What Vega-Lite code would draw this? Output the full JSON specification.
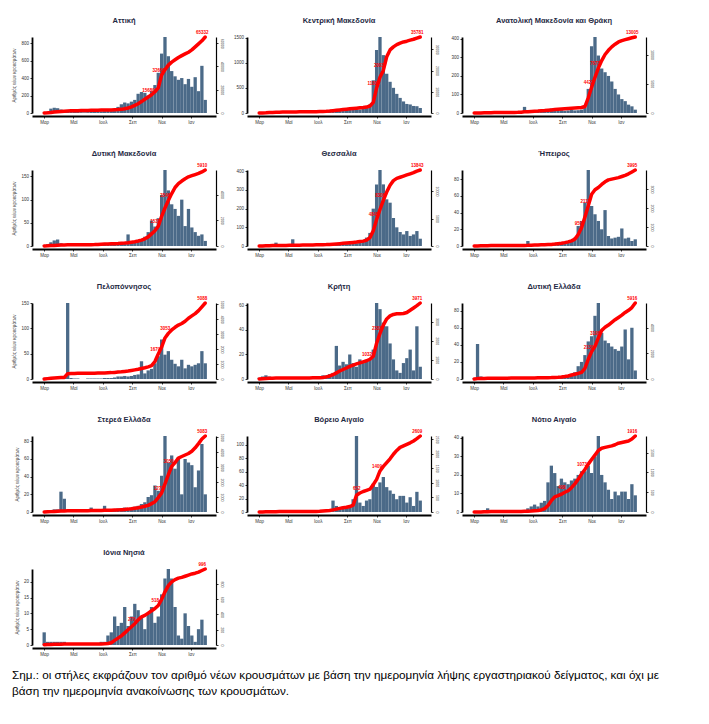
{
"$schema":"https://vega.github.io/schema/vega-lite/v6.json",
"background":"white",
"padding":{"left":11,"top":16,"right":5,"bottom":10},
"bounds":"flush",
"columns":3,
"spacing":{"row":57,"column":31},
"title":{"text":["Σημ.:  οι στήλες εκφράζουν τον αριθμό νέων κρουσμάτων με βάση την ημερομηνία λήψης εργαστηριακού δείγματος, και όχι με","βάση την ημερομηνία ανακοίνωσης των κρουσμάτων."],"orient":"bottom","anchor":"start","fontSize":11.7,"fontWeight":"normal","color":"#000000","lineHeight":16,"offset":14},
"concat":[
{"title":"Αττική","data":{"name":"attiki"},"width":184,"height":76,
"encoding":{"x":{"field":"d","type":"temporal","title":null,"scale":{"type":"utc","domain":[{"year":2020,"month":2,"date":15,"utc":true},{"year":2021,"month":2,"date":12,"utc":true}]},"axis":{"labelOverlap":false,"values":[{"year":2020,"month":3,"date":1,"utc":true},{"year":2020,"month":5,"date":1,"utc":true},{"year":2020,"month":7,"date":1,"utc":true},{"year":2020,"month":9,"date":1,"utc":true},{"year":2020,"month":11,"date":1,"utc":true},{"year":2021,"month":1,"date":1,"utc":true}],"labelExpr":"['Ιαν','Φεβ','Μαρ','Απρ','Μαϊ','Ιουν','Ιουλ','Αυγ','Σεπ','Οκτ','Νοε','Δεκ'][utcmonth(datum.value)]"}}},
"layer":[
{"mark":{"type":"bar","color":"#4b6a88","width":3.3},"encoding":{"y":{"field":"n","type":"quantitative","scale":{"nice":false},"axis":{"title":"Αριθμός νέων κρουσμάτων","format":"d"}}}},
{"mark":{"type":"line","color":"#ff0000","strokeWidth":3.5,"strokeCap":"round","strokeJoin":"round"},"encoding":{"y":{"field":"c","type":"quantitative","scale":{"nice":false},"axis":{"orient":"right","title":null,"format":"d"}}}},
{"transform":[{"filter":"datum.l == 1"}],"mark":{"type":"text","color":"#ff0000","fontSize":4.5,"fontWeight":"bold","dy":-4,"dx":-3},"encoding":{"y":{"field":"c","type":"quantitative","scale":{"nice":false},"axis":null},"text":{"field":"c","type":"quantitative","format":"d"}}}
],"resolve":{"scale":{"y":"independent"}}},
{"title":"Κεντρική Μακεδονία","data":{"name":"km"},"width":184,"height":76,
"encoding":{"x":{"field":"d","type":"temporal","title":null,"scale":{"type":"utc","domain":[{"year":2020,"month":2,"date":15,"utc":true},{"year":2021,"month":2,"date":12,"utc":true}]},"axis":{"labelOverlap":false,"values":[{"year":2020,"month":3,"date":1,"utc":true},{"year":2020,"month":5,"date":1,"utc":true},{"year":2020,"month":7,"date":1,"utc":true},{"year":2020,"month":9,"date":1,"utc":true},{"year":2020,"month":11,"date":1,"utc":true},{"year":2021,"month":1,"date":1,"utc":true}],"labelExpr":"['Ιαν','Φεβ','Μαρ','Απρ','Μαϊ','Ιουν','Ιουλ','Αυγ','Σεπ','Οκτ','Νοε','Δεκ'][utcmonth(datum.value)]"}}},
"layer":[
{"mark":{"type":"bar","color":"#4b6a88","width":3.3},"encoding":{"y":{"field":"n","type":"quantitative","scale":{"nice":false},"axis":{"title":null,"format":"d"}}}},
{"mark":{"type":"line","color":"#ff0000","strokeWidth":3.5,"strokeCap":"round","strokeJoin":"round"},"encoding":{"y":{"field":"c","type":"quantitative","scale":{"nice":false},"axis":{"orient":"right","title":null,"format":"d"}}}},
{"transform":[{"filter":"datum.l == 1"}],"mark":{"type":"text","color":"#ff0000","fontSize":4.5,"fontWeight":"bold","dy":-4,"dx":-3},"encoding":{"y":{"field":"c","type":"quantitative","scale":{"nice":false},"axis":null},"text":{"field":"c","type":"quantitative","format":"d"}}}
],"resolve":{"scale":{"y":"independent"}}},
{"title":"Ανατολική Μακεδονία και Θράκη","data":{"name":"amth"},"width":184,"height":76,
"encoding":{"x":{"field":"d","type":"temporal","title":null,"scale":{"type":"utc","domain":[{"year":2020,"month":2,"date":15,"utc":true},{"year":2021,"month":2,"date":12,"utc":true}]},"axis":{"labelOverlap":false,"values":[{"year":2020,"month":3,"date":1,"utc":true},{"year":2020,"month":5,"date":1,"utc":true},{"year":2020,"month":7,"date":1,"utc":true},{"year":2020,"month":9,"date":1,"utc":true},{"year":2020,"month":11,"date":1,"utc":true},{"year":2021,"month":1,"date":1,"utc":true}],"labelExpr":"['Ιαν','Φεβ','Μαρ','Απρ','Μαϊ','Ιουν','Ιουλ','Αυγ','Σεπ','Οκτ','Νοε','Δεκ'][utcmonth(datum.value)]"}}},
"layer":[
{"mark":{"type":"bar","color":"#4b6a88","width":3.3},"encoding":{"y":{"field":"n","type":"quantitative","scale":{"nice":false},"axis":{"title":null,"format":"d"}}}},
{"mark":{"type":"line","color":"#ff0000","strokeWidth":3.5,"strokeCap":"round","strokeJoin":"round"},"encoding":{"y":{"field":"c","type":"quantitative","scale":{"nice":false},"axis":{"orient":"right","title":null,"format":"d"}}}},
{"transform":[{"filter":"datum.l == 1"}],"mark":{"type":"text","color":"#ff0000","fontSize":4.5,"fontWeight":"bold","dy":-4,"dx":-3},"encoding":{"y":{"field":"c","type":"quantitative","scale":{"nice":false},"axis":null},"text":{"field":"c","type":"quantitative","format":"d"}}}
],"resolve":{"scale":{"y":"independent"}}},
{"title":"Δυτική Μακεδονία","data":{"name":"dm"},"width":184,"height":76,
"encoding":{"x":{"field":"d","type":"temporal","title":null,"scale":{"type":"utc","domain":[{"year":2020,"month":2,"date":15,"utc":true},{"year":2021,"month":2,"date":12,"utc":true}]},"axis":{"labelOverlap":false,"values":[{"year":2020,"month":3,"date":1,"utc":true},{"year":2020,"month":5,"date":1,"utc":true},{"year":2020,"month":7,"date":1,"utc":true},{"year":2020,"month":9,"date":1,"utc":true},{"year":2020,"month":11,"date":1,"utc":true},{"year":2021,"month":1,"date":1,"utc":true}],"labelExpr":"['Ιαν','Φεβ','Μαρ','Απρ','Μαϊ','Ιουν','Ιουλ','Αυγ','Σεπ','Οκτ','Νοε','Δεκ'][utcmonth(datum.value)]"}}},
"layer":[
{"mark":{"type":"bar","color":"#4b6a88","width":3.3},"encoding":{"y":{"field":"n","type":"quantitative","scale":{"nice":false},"axis":{"title":"Αριθμός νέων κρουσμάτων","format":"d"}}}},
{"mark":{"type":"line","color":"#ff0000","strokeWidth":3.5,"strokeCap":"round","strokeJoin":"round"},"encoding":{"y":{"field":"c","type":"quantitative","scale":{"nice":false},"axis":{"orient":"right","title":null,"format":"d"}}}},
{"transform":[{"filter":"datum.l == 1"}],"mark":{"type":"text","color":"#ff0000","fontSize":4.5,"fontWeight":"bold","dy":-4,"dx":-3},"encoding":{"y":{"field":"c","type":"quantitative","scale":{"nice":false},"axis":null},"text":{"field":"c","type":"quantitative","format":"d"}}}
],"resolve":{"scale":{"y":"independent"}}},
{"title":"Θεσσαλία","data":{"name":"thes"},"width":184,"height":76,
"encoding":{"x":{"field":"d","type":"temporal","title":null,"scale":{"type":"utc","domain":[{"year":2020,"month":2,"date":15,"utc":true},{"year":2021,"month":2,"date":12,"utc":true}]},"axis":{"labelOverlap":false,"values":[{"year":2020,"month":3,"date":1,"utc":true},{"year":2020,"month":5,"date":1,"utc":true},{"year":2020,"month":7,"date":1,"utc":true},{"year":2020,"month":9,"date":1,"utc":true},{"year":2020,"month":11,"date":1,"utc":true},{"year":2021,"month":1,"date":1,"utc":true}],"labelExpr":"['Ιαν','Φεβ','Μαρ','Απρ','Μαϊ','Ιουν','Ιουλ','Αυγ','Σεπ','Οκτ','Νοε','Δεκ'][utcmonth(datum.value)]"}}},
"layer":[
{"mark":{"type":"bar","color":"#4b6a88","width":3.3},"encoding":{"y":{"field":"n","type":"quantitative","scale":{"nice":false},"axis":{"title":null,"format":"d"}}}},
{"mark":{"type":"line","color":"#ff0000","strokeWidth":3.5,"strokeCap":"round","strokeJoin":"round"},"encoding":{"y":{"field":"c","type":"quantitative","scale":{"nice":false},"axis":{"orient":"right","title":null,"format":"d"}}}},
{"transform":[{"filter":"datum.l == 1"}],"mark":{"type":"text","color":"#ff0000","fontSize":4.5,"fontWeight":"bold","dy":-4,"dx":-3},"encoding":{"y":{"field":"c","type":"quantitative","scale":{"nice":false},"axis":null},"text":{"field":"c","type":"quantitative","format":"d"}}}
],"resolve":{"scale":{"y":"independent"}}},
{"title":"Ήπειρος","data":{"name":"ip"},"width":184,"height":76,
"encoding":{"x":{"field":"d","type":"temporal","title":null,"scale":{"type":"utc","domain":[{"year":2020,"month":2,"date":15,"utc":true},{"year":2021,"month":2,"date":12,"utc":true}]},"axis":{"labelOverlap":false,"values":[{"year":2020,"month":3,"date":1,"utc":true},{"year":2020,"month":5,"date":1,"utc":true},{"year":2020,"month":7,"date":1,"utc":true},{"year":2020,"month":9,"date":1,"utc":true},{"year":2020,"month":11,"date":1,"utc":true},{"year":2021,"month":1,"date":1,"utc":true}],"labelExpr":"['Ιαν','Φεβ','Μαρ','Απρ','Μαϊ','Ιουν','Ιουλ','Αυγ','Σεπ','Οκτ','Νοε','Δεκ'][utcmonth(datum.value)]"}}},
"layer":[
{"mark":{"type":"bar","color":"#4b6a88","width":3.3},"encoding":{"y":{"field":"n","type":"quantitative","scale":{"nice":false},"axis":{"title":null,"format":"d"}}}},
{"mark":{"type":"line","color":"#ff0000","strokeWidth":3.5,"strokeCap":"round","strokeJoin":"round"},"encoding":{"y":{"field":"c","type":"quantitative","scale":{"nice":false},"axis":{"orient":"right","title":null,"format":"d"}}}},
{"transform":[{"filter":"datum.l == 1"}],"mark":{"type":"text","color":"#ff0000","fontSize":4.5,"fontWeight":"bold","dy":-4,"dx":-3},"encoding":{"y":{"field":"c","type":"quantitative","scale":{"nice":false},"axis":null},"text":{"field":"c","type":"quantitative","format":"d"}}}
],"resolve":{"scale":{"y":"independent"}}},
{"title":"Πελοπόννησος","data":{"name":"pel"},"width":184,"height":76,
"encoding":{"x":{"field":"d","type":"temporal","title":null,"scale":{"type":"utc","domain":[{"year":2020,"month":2,"date":15,"utc":true},{"year":2021,"month":2,"date":12,"utc":true}]},"axis":{"labelOverlap":false,"values":[{"year":2020,"month":3,"date":1,"utc":true},{"year":2020,"month":5,"date":1,"utc":true},{"year":2020,"month":7,"date":1,"utc":true},{"year":2020,"month":9,"date":1,"utc":true},{"year":2020,"month":11,"date":1,"utc":true},{"year":2021,"month":1,"date":1,"utc":true}],"labelExpr":"['Ιαν','Φεβ','Μαρ','Απρ','Μαϊ','Ιουν','Ιουλ','Αυγ','Σεπ','Οκτ','Νοε','Δεκ'][utcmonth(datum.value)]"}}},
"layer":[
{"mark":{"type":"bar","color":"#4b6a88","width":3.3},"encoding":{"y":{"field":"n","type":"quantitative","scale":{"nice":false},"axis":{"title":"Αριθμός νέων κρουσμάτων","format":"d"}}}},
{"mark":{"type":"line","color":"#ff0000","strokeWidth":3.5,"strokeCap":"round","strokeJoin":"round"},"encoding":{"y":{"field":"c","type":"quantitative","scale":{"nice":false},"axis":{"orient":"right","title":null,"format":"d"}}}},
{"transform":[{"filter":"datum.l == 1"}],"mark":{"type":"text","color":"#ff0000","fontSize":4.5,"fontWeight":"bold","dy":-4,"dx":-3},"encoding":{"y":{"field":"c","type":"quantitative","scale":{"nice":false},"axis":null},"text":{"field":"c","type":"quantitative","format":"d"}}}
],"resolve":{"scale":{"y":"independent"}}},
{"title":"Κρήτη","data":{"name":"kri"},"width":184,"height":76,
"encoding":{"x":{"field":"d","type":"temporal","title":null,"scale":{"type":"utc","domain":[{"year":2020,"month":2,"date":15,"utc":true},{"year":2021,"month":2,"date":12,"utc":true}]},"axis":{"labelOverlap":false,"values":[{"year":2020,"month":3,"date":1,"utc":true},{"year":2020,"month":5,"date":1,"utc":true},{"year":2020,"month":7,"date":1,"utc":true},{"year":2020,"month":9,"date":1,"utc":true},{"year":2020,"month":11,"date":1,"utc":true},{"year":2021,"month":1,"date":1,"utc":true}],"labelExpr":"['Ιαν','Φεβ','Μαρ','Απρ','Μαϊ','Ιουν','Ιουλ','Αυγ','Σεπ','Οκτ','Νοε','Δεκ'][utcmonth(datum.value)]"}}},
"layer":[
{"mark":{"type":"bar","color":"#4b6a88","width":3.3},"encoding":{"y":{"field":"n","type":"quantitative","scale":{"nice":false},"axis":{"title":null,"format":"d"}}}},
{"mark":{"type":"line","color":"#ff0000","strokeWidth":3.5,"strokeCap":"round","strokeJoin":"round"},"encoding":{"y":{"field":"c","type":"quantitative","scale":{"nice":false},"axis":{"orient":"right","title":null,"format":"d"}}}},
{"transform":[{"filter":"datum.l == 1"}],"mark":{"type":"text","color":"#ff0000","fontSize":4.5,"fontWeight":"bold","dy":-4,"dx":-3},"encoding":{"y":{"field":"c","type":"quantitative","scale":{"nice":false},"axis":null},"text":{"field":"c","type":"quantitative","format":"d"}}}
],"resolve":{"scale":{"y":"independent"}}},
{"title":"Δυτική Ελλάδα","data":{"name":"de"},"width":184,"height":76,
"encoding":{"x":{"field":"d","type":"temporal","title":null,"scale":{"type":"utc","domain":[{"year":2020,"month":2,"date":15,"utc":true},{"year":2021,"month":2,"date":12,"utc":true}]},"axis":{"labelOverlap":false,"values":[{"year":2020,"month":3,"date":1,"utc":true},{"year":2020,"month":5,"date":1,"utc":true},{"year":2020,"month":7,"date":1,"utc":true},{"year":2020,"month":9,"date":1,"utc":true},{"year":2020,"month":11,"date":1,"utc":true},{"year":2021,"month":1,"date":1,"utc":true}],"labelExpr":"['Ιαν','Φεβ','Μαρ','Απρ','Μαϊ','Ιουν','Ιουλ','Αυγ','Σεπ','Οκτ','Νοε','Δεκ'][utcmonth(datum.value)]"}}},
"layer":[
{"mark":{"type":"bar","color":"#4b6a88","width":3.3},"encoding":{"y":{"field":"n","type":"quantitative","scale":{"nice":false},"axis":{"title":null,"format":"d"}}}},
{"mark":{"type":"line","color":"#ff0000","strokeWidth":3.5,"strokeCap":"round","strokeJoin":"round"},"encoding":{"y":{"field":"c","type":"quantitative","scale":{"nice":false},"axis":{"orient":"right","title":null,"format":"d"}}}},
{"transform":[{"filter":"datum.l == 1"}],"mark":{"type":"text","color":"#ff0000","fontSize":4.5,"fontWeight":"bold","dy":-4,"dx":-3},"encoding":{"y":{"field":"c","type":"quantitative","scale":{"nice":false},"axis":null},"text":{"field":"c","type":"quantitative","format":"d"}}}
],"resolve":{"scale":{"y":"independent"}}},
{"title":"Στερεά Ελλάδα","data":{"name":"se"},"width":184,"height":76,
"encoding":{"x":{"field":"d","type":"temporal","title":null,"scale":{"type":"utc","domain":[{"year":2020,"month":2,"date":15,"utc":true},{"year":2021,"month":2,"date":12,"utc":true}]},"axis":{"labelOverlap":false,"values":[{"year":2020,"month":3,"date":1,"utc":true},{"year":2020,"month":5,"date":1,"utc":true},{"year":2020,"month":7,"date":1,"utc":true},{"year":2020,"month":9,"date":1,"utc":true},{"year":2020,"month":11,"date":1,"utc":true},{"year":2021,"month":1,"date":1,"utc":true}],"labelExpr":"['Ιαν','Φεβ','Μαρ','Απρ','Μαϊ','Ιουν','Ιουλ','Αυγ','Σεπ','Οκτ','Νοε','Δεκ'][utcmonth(datum.value)]"}}},
"layer":[
{"mark":{"type":"bar","color":"#4b6a88","width":3.3},"encoding":{"y":{"field":"n","type":"quantitative","scale":{"nice":false},"axis":{"title":"Αριθμός νέων κρουσμάτων","format":"d"}}}},
{"mark":{"type":"line","color":"#ff0000","strokeWidth":3.5,"strokeCap":"round","strokeJoin":"round"},"encoding":{"y":{"field":"c","type":"quantitative","scale":{"nice":false},"axis":{"orient":"right","title":null,"format":"d"}}}},
{"transform":[{"filter":"datum.l == 1"}],"mark":{"type":"text","color":"#ff0000","fontSize":4.5,"fontWeight":"bold","dy":-4,"dx":-3},"encoding":{"y":{"field":"c","type":"quantitative","scale":{"nice":false},"axis":null},"text":{"field":"c","type":"quantitative","format":"d"}}}
],"resolve":{"scale":{"y":"independent"}}},
{"title":"Βόρειο Αιγαίο","data":{"name":"va"},"width":184,"height":76,
"encoding":{"x":{"field":"d","type":"temporal","title":null,"scale":{"type":"utc","domain":[{"year":2020,"month":2,"date":15,"utc":true},{"year":2021,"month":2,"date":12,"utc":true}]},"axis":{"labelOverlap":false,"values":[{"year":2020,"month":3,"date":1,"utc":true},{"year":2020,"month":5,"date":1,"utc":true},{"year":2020,"month":7,"date":1,"utc":true},{"year":2020,"month":9,"date":1,"utc":true},{"year":2020,"month":11,"date":1,"utc":true},{"year":2021,"month":1,"date":1,"utc":true}],"labelExpr":"['Ιαν','Φεβ','Μαρ','Απρ','Μαϊ','Ιουν','Ιουλ','Αυγ','Σεπ','Οκτ','Νοε','Δεκ'][utcmonth(datum.value)]"}}},
"layer":[
{"mark":{"type":"bar","color":"#4b6a88","width":3.3},"encoding":{"y":{"field":"n","type":"quantitative","scale":{"nice":false},"axis":{"title":null,"format":"d"}}}},
{"mark":{"type":"line","color":"#ff0000","strokeWidth":3.5,"strokeCap":"round","strokeJoin":"round"},"encoding":{"y":{"field":"c","type":"quantitative","scale":{"nice":false},"axis":{"orient":"right","title":null,"format":"d"}}}},
{"transform":[{"filter":"datum.l == 1"}],"mark":{"type":"text","color":"#ff0000","fontSize":4.5,"fontWeight":"bold","dy":-4,"dx":-3},"encoding":{"y":{"field":"c","type":"quantitative","scale":{"nice":false},"axis":null},"text":{"field":"c","type":"quantitative","format":"d"}}}
],"resolve":{"scale":{"y":"independent"}}},
{"title":"Νότιο Αιγαίο","data":{"name":"na"},"width":184,"height":76,
"encoding":{"x":{"field":"d","type":"temporal","title":null,"scale":{"type":"utc","domain":[{"year":2020,"month":2,"date":15,"utc":true},{"year":2021,"month":2,"date":12,"utc":true}]},"axis":{"labelOverlap":false,"values":[{"year":2020,"month":3,"date":1,"utc":true},{"year":2020,"month":5,"date":1,"utc":true},{"year":2020,"month":7,"date":1,"utc":true},{"year":2020,"month":9,"date":1,"utc":true},{"year":2020,"month":11,"date":1,"utc":true},{"year":2021,"month":1,"date":1,"utc":true}],"labelExpr":"['Ιαν','Φεβ','Μαρ','Απρ','Μαϊ','Ιουν','Ιουλ','Αυγ','Σεπ','Οκτ','Νοε','Δεκ'][utcmonth(datum.value)]"}}},
"layer":[
{"mark":{"type":"bar","color":"#4b6a88","width":3.3},"encoding":{"y":{"field":"n","type":"quantitative","scale":{"nice":false},"axis":{"title":null,"format":"d"}}}},
{"mark":{"type":"line","color":"#ff0000","strokeWidth":3.5,"strokeCap":"round","strokeJoin":"round"},"encoding":{"y":{"field":"c","type":"quantitative","scale":{"nice":false},"axis":{"orient":"right","title":null,"format":"d"}}}},
{"transform":[{"filter":"datum.l == 1"}],"mark":{"type":"text","color":"#ff0000","fontSize":4.5,"fontWeight":"bold","dy":-4,"dx":-3},"encoding":{"y":{"field":"c","type":"quantitative","scale":{"nice":false},"axis":null},"text":{"field":"c","type":"quantitative","format":"d"}}}
],"resolve":{"scale":{"y":"independent"}}},
{"title":"Ιόνια Νησιά","data":{"name":"in"},"width":184,"height":76,
"encoding":{"x":{"field":"d","type":"temporal","title":null,"scale":{"type":"utc","domain":[{"year":2020,"month":2,"date":15,"utc":true},{"year":2021,"month":2,"date":12,"utc":true}]},"axis":{"labelOverlap":false,"values":[{"year":2020,"month":3,"date":1,"utc":true},{"year":2020,"month":5,"date":1,"utc":true},{"year":2020,"month":7,"date":1,"utc":true},{"year":2020,"month":9,"date":1,"utc":true},{"year":2020,"month":11,"date":1,"utc":true},{"year":2021,"month":1,"date":1,"utc":true}],"labelExpr":"['Ιαν','Φεβ','Μαρ','Απρ','Μαϊ','Ιουν','Ιουλ','Αυγ','Σεπ','Οκτ','Νοε','Δεκ'][utcmonth(datum.value)]"}}},
"layer":[
{"mark":{"type":"bar","color":"#4b6a88","width":3.3},"encoding":{"y":{"field":"n","type":"quantitative","scale":{"nice":false},"axis":{"title":"Αριθμός νέων κρουσμάτων","format":"d"}}}},
{"mark":{"type":"line","color":"#ff0000","strokeWidth":3.5,"strokeCap":"round","strokeJoin":"round"},"encoding":{"y":{"field":"c","type":"quantitative","scale":{"nice":false},"axis":{"orient":"right","title":null,"format":"d"}}}},
{"transform":[{"filter":"datum.l == 1"}],"mark":{"type":"text","color":"#ff0000","fontSize":4.5,"fontWeight":"bold","dy":-4,"dx":-3},"encoding":{"y":{"field":"c","type":"quantitative","scale":{"nice":false},"axis":null},"text":{"field":"c","type":"quantitative","format":"d"}}}
],"resolve":{"scale":{"y":"independent"}}}
],
"datasets":{
"attiki":[
{"d":"2020-03-01","n":2,"c":0},{"d":"2020-03-08","n":15,"c":131},{"d":"2020-03-15","n":50,"c":392},{"d":"2020-03-22","n":60,"c":784},{"d":"2020-03-29","n":55,"c":1111},{"d":"2020-04-05","n":40,"c":1372},{"d":"2020-04-12","n":30,"c":1568},{"d":"2020-04-19","n":25,"c":1699},{"d":"2020-04-26","n":20,"c":1829},{"d":"2020-05-03","n":15,"c":1960},{"d":"2020-05-10","n":12,"c":2025},{"d":"2020-05-17","n":10,"c":2091},{"d":"2020-05-24","n":8,"c":2156},{"d":"2020-05-31","n":10,"c":2221},{"d":"2020-06-07","n":12,"c":2287},{"d":"2020-06-14","n":15,"c":2352},{"d":"2020-06-21","n":18,"c":2417},{"d":"2020-06-28","n":20,"c":2483},{"d":"2020-07-05","n":22,"c":2548},{"d":"2020-07-12","n":25,"c":2613},{"d":"2020-07-19","n":30,"c":2679},{"d":"2020-07-26","n":40,"c":2809},{"d":"2020-08-02","n":70,"c":2940},{"d":"2020-08-09","n":100,"c":3136},{"d":"2020-08-16","n":120,"c":3659},{"d":"2020-08-23","n":110,"c":4312},{"d":"2020-08-30","n":130,"c":5227},{"d":"2020-09-06","n":150,"c":6533},{"d":"2020-09-13","n":220,"c":7971},{"d":"2020-09-20","n":240,"c":9800},{"d":"2020-09-27","n":230,"c":11760},{"d":"2020-10-04","n":200,"c":13720},{"d":"2020-10-11","n":250,"c":15680,"l":1},{"d":"2020-10-18","n":320,"c":18293},{"d":"2020-10-25","n":460,"c":21560},{"d":"2020-11-01","n":680,"c":32666,"l":1},{"d":"2020-11-08","n":870,"c":37239},{"d":"2020-11-15","n":650,"c":41159},{"d":"2020-11-22","n":480,"c":43772},{"d":"2020-11-29","n":420,"c":45732},{"d":"2020-12-06","n":380,"c":47692},{"d":"2020-12-13","n":400,"c":49326},{"d":"2020-12-20","n":330,"c":50828},{"d":"2020-12-27","n":390,"c":52266},{"d":"2021-01-03","n":300,"c":54226},{"d":"2021-01-10","n":410,"c":56839},{"d":"2021-01-17","n":250,"c":59452},{"d":"2021-01-24","n":540,"c":62065},{"d":"2021-01-31","n":150,"c":65332,"l":1}],
"km":[
{"d":"2020-03-01","n":0,"c":0},{"d":"2020-03-08","n":3,"c":36},{"d":"2020-03-15","n":10,"c":107},{"d":"2020-03-22","n":15,"c":215},{"d":"2020-03-29","n":12,"c":286},{"d":"2020-04-05","n":10,"c":358},{"d":"2020-04-12","n":8,"c":394},{"d":"2020-04-19","n":5,"c":429},{"d":"2020-04-26","n":4,"c":465},{"d":"2020-05-03","n":3,"c":465},{"d":"2020-05-10","n":2,"c":501},{"d":"2020-05-17","n":2,"c":501},{"d":"2020-05-24","n":2,"c":537},{"d":"2020-05-31","n":3,"c":537},{"d":"2020-06-07","n":3,"c":572},{"d":"2020-06-14","n":4,"c":572},{"d":"2020-06-21","n":5,"c":608},{"d":"2020-06-28","n":6,"c":644},{"d":"2020-07-05","n":8,"c":680},{"d":"2020-07-12","n":10,"c":716},{"d":"2020-07-19","n":15,"c":787},{"d":"2020-07-26","n":30,"c":895},{"d":"2020-08-02","n":60,"c":1073},{"d":"2020-08-09","n":70,"c":1252},{"d":"2020-08-16","n":80,"c":1431},{"d":"2020-08-23","n":75,"c":1610},{"d":"2020-08-30","n":85,"c":1789},{"d":"2020-09-06","n":70,"c":1968},{"d":"2020-09-13","n":80,"c":2147},{"d":"2020-09-20","n":75,"c":2290},{"d":"2020-09-27","n":70,"c":2433},{"d":"2020-10-04","n":90,"c":2576},{"d":"2020-10-11","n":110,"c":2791},{"d":"2020-10-18","n":170,"c":3292},{"d":"2020-10-25","n":650,"c":5009},{"d":"2020-11-01","n":1250,"c":11808,"l":1},{"d":"2020-11-08","n":1510,"c":16817},{"d":"2020-11-15","n":1150,"c":20037,"l":1},{"d":"2020-11-22","n":780,"c":26478},{"d":"2020-11-29","n":620,"c":29698},{"d":"2020-12-06","n":500,"c":31129},{"d":"2020-12-13","n":380,"c":32203},{"d":"2020-12-20","n":300,"c":32919},{"d":"2020-12-27","n":230,"c":33455},{"d":"2021-01-03","n":180,"c":33813},{"d":"2021-01-10","n":170,"c":34278},{"d":"2021-01-17","n":140,"c":34708},{"d":"2021-01-24","n":135,"c":35244},{"d":"2021-01-31","n":100,"c":35781,"l":1}],
"amth":[
{"d":"2020-03-01","n":0,"c":0},{"d":"2020-03-08","n":0,"c":0},{"d":"2020-03-15","n":1,"c":13},{"d":"2020-03-22","n":2,"c":26},{"d":"2020-03-29","n":2,"c":39},{"d":"2020-04-05","n":1,"c":52},{"d":"2020-04-12","n":1,"c":65},{"d":"2020-04-19","n":1,"c":65},{"d":"2020-04-26","n":1,"c":78},{"d":"2020-05-03","n":0,"c":78},{"d":"2020-05-10","n":1,"c":91},{"d":"2020-05-17","n":1,"c":91},{"d":"2020-05-24","n":2,"c":104},{"d":"2020-05-31","n":3,"c":117},{"d":"2020-06-07","n":8,"c":143},{"d":"2020-06-14","n":33,"c":195},{"d":"2020-06-21","n":10,"c":221},{"d":"2020-06-28","n":5,"c":260},{"d":"2020-07-05","n":4,"c":299},{"d":"2020-07-12","n":6,"c":338},{"d":"2020-07-19","n":8,"c":390},{"d":"2020-07-26","n":10,"c":429},{"d":"2020-08-02","n":20,"c":481},{"d":"2020-08-09","n":24,"c":533},{"d":"2020-08-16","n":15,"c":585},{"d":"2020-08-23","n":12,"c":637},{"d":"2020-08-30","n":15,"c":689},{"d":"2020-09-06","n":12,"c":741},{"d":"2020-09-13","n":14,"c":780},{"d":"2020-09-20","n":16,"c":819},{"d":"2020-09-27","n":14,"c":858},{"d":"2020-10-04","n":15,"c":897},{"d":"2020-10-11","n":18,"c":936},{"d":"2020-10-18","n":30,"c":1105},{"d":"2020-10-25","n":130,"c":2601},{"d":"2020-11-01","n":360,"c":4422,"l":1},{"d":"2020-11-08","n":410,"c":6112},{"d":"2020-11-15","n":310,"c":7673,"l":1},{"d":"2020-11-22","n":240,"c":8973},{"d":"2020-11-29","n":220,"c":10014},{"d":"2020-12-06","n":200,"c":10729},{"d":"2020-12-13","n":170,"c":11314},{"d":"2020-12-20","n":130,"c":11770},{"d":"2020-12-27","n":100,"c":12160},{"d":"2021-01-03","n":75,"c":12381},{"d":"2021-01-10","n":64,"c":12550},{"d":"2021-01-17","n":45,"c":12706},{"d":"2021-01-24","n":36,"c":12875},{"d":"2021-01-31","n":18,"c":13005,"l":1}],
"dm":[
{"d":"2020-03-01","n":1,"c":0},{"d":"2020-03-08","n":4,"c":12},{"d":"2020-03-15","n":8,"c":30},{"d":"2020-03-22","n":12,"c":47},{"d":"2020-03-29","n":14,"c":65},{"d":"2020-04-05","n":6,"c":77},{"d":"2020-04-12","n":3,"c":83},{"d":"2020-04-19","n":2,"c":89},{"d":"2020-04-26","n":2,"c":89},{"d":"2020-05-03","n":1,"c":95},{"d":"2020-05-10","n":1,"c":95},{"d":"2020-05-17","n":1,"c":100},{"d":"2020-05-24","n":1,"c":100},{"d":"2020-05-31","n":1,"c":106},{"d":"2020-06-07","n":2,"c":106},{"d":"2020-06-14","n":2,"c":112},{"d":"2020-06-21","n":2,"c":124},{"d":"2020-06-28","n":2,"c":136},{"d":"2020-07-05","n":3,"c":148},{"d":"2020-07-12","n":3,"c":160},{"d":"2020-07-19","n":4,"c":171},{"d":"2020-07-26","n":5,"c":183},{"d":"2020-08-02","n":6,"c":195},{"d":"2020-08-09","n":7,"c":213},{"d":"2020-08-16","n":8,"c":230},{"d":"2020-08-23","n":25,"c":254},{"d":"2020-08-30","n":7,"c":296},{"d":"2020-09-06","n":8,"c":337},{"d":"2020-09-13","n":10,"c":390},{"d":"2020-09-20","n":15,"c":455},{"d":"2020-09-27","n":20,"c":561},{"d":"2020-10-04","n":30,"c":709},{"d":"2020-10-11","n":55,"c":946},{"d":"2020-10-18","n":42,"c":1182},{"d":"2020-10-25","n":60,"c":1537,"l":1},{"d":"2020-11-01","n":110,"c":2305},{"d":"2020-11-08","n":164,"c":2955},{"d":"2020-11-15","n":120,"c":3546,"l":1},{"d":"2020-11-22","n":90,"c":4078},{"d":"2020-11-29","n":80,"c":4551},{"d":"2020-12-06","n":65,"c":4846},{"d":"2020-12-13","n":100,"c":5053},{"d":"2020-12-20","n":43,"c":5230},{"d":"2020-12-27","n":80,"c":5378},{"d":"2021-01-03","n":40,"c":5467},{"d":"2021-01-10","n":30,"c":5555},{"d":"2021-01-17","n":22,"c":5644},{"d":"2021-01-24","n":25,"c":5762},{"d":"2021-01-31","n":11,"c":5910,"l":1}],
"thes":[
{"d":"2020-03-01","n":0,"c":0},{"d":"2020-03-08","n":0,"c":14},{"d":"2020-03-15","n":1,"c":28},{"d":"2020-03-22","n":2,"c":55},{"d":"2020-03-29","n":3,"c":69},{"d":"2020-04-05","n":18,"c":83},{"d":"2020-04-12","n":3,"c":97},{"d":"2020-04-19","n":2,"c":111},{"d":"2020-04-26","n":2,"c":111},{"d":"2020-05-03","n":3,"c":125},{"d":"2020-05-10","n":36,"c":138},{"d":"2020-05-17","n":3,"c":152},{"d":"2020-05-24","n":2,"c":152},{"d":"2020-05-31","n":2,"c":166},{"d":"2020-06-07","n":2,"c":166},{"d":"2020-06-14","n":2,"c":180},{"d":"2020-06-21","n":3,"c":194},{"d":"2020-06-28","n":3,"c":208},{"d":"2020-07-05","n":4,"c":221},{"d":"2020-07-12","n":5,"c":249},{"d":"2020-07-19","n":5,"c":263},{"d":"2020-07-26","n":6,"c":291},{"d":"2020-08-02","n":8,"c":332},{"d":"2020-08-09","n":10,"c":374},{"d":"2020-08-16","n":12,"c":429},{"d":"2020-08-23","n":12,"c":485},{"d":"2020-08-30","n":10,"c":540},{"d":"2020-09-06","n":12,"c":595},{"d":"2020-09-13","n":13,"c":651},{"d":"2020-09-20","n":15,"c":720},{"d":"2020-09-27","n":18,"c":803},{"d":"2020-10-04","n":25,"c":886},{"d":"2020-10-11","n":45,"c":1080},{"d":"2020-10-18","n":70,"c":1523},{"d":"2020-10-25","n":200,"c":2769},{"d":"2020-11-01","n":330,"c":4845,"l":1},{"d":"2020-11-08","n":407,"c":6645},{"d":"2020-11-15","n":330,"c":8306,"l":1},{"d":"2020-11-22","n":250,"c":9829},{"d":"2020-11-29","n":232,"c":11074},{"d":"2020-12-06","n":150,"c":11905},{"d":"2020-12-13","n":100,"c":12320},{"d":"2020-12-20","n":75,"c":12528},{"d":"2020-12-27","n":62,"c":12736},{"d":"2021-01-03","n":80,"c":12943},{"d":"2021-01-10","n":54,"c":13151},{"d":"2021-01-17","n":62,"c":13358},{"d":"2021-01-24","n":80,"c":13635},{"d":"2021-01-31","n":39,"c":13843,"l":1}],
"ip":[
{"d":"2020-03-01","n":0,"c":0},{"d":"2020-03-08","n":0,"c":4},{"d":"2020-03-15","n":1,"c":8},{"d":"2020-03-22","n":1,"c":12},{"d":"2020-03-29","n":2,"c":16},{"d":"2020-04-05","n":1,"c":20},{"d":"2020-04-12","n":1,"c":20},{"d":"2020-04-19","n":0,"c":24},{"d":"2020-04-26","n":0,"c":24},{"d":"2020-05-03","n":0,"c":24},{"d":"2020-05-10","n":0,"c":28},{"d":"2020-05-17","n":0,"c":28},{"d":"2020-05-24","n":0,"c":28},{"d":"2020-05-31","n":1,"c":28},{"d":"2020-06-07","n":1,"c":32},{"d":"2020-06-14","n":1,"c":32},{"d":"2020-06-21","n":6,"c":36},{"d":"2020-06-28","n":1,"c":44},{"d":"2020-07-05","n":1,"c":48},{"d":"2020-07-12","n":1,"c":52},{"d":"2020-07-19","n":2,"c":60},{"d":"2020-07-26","n":2,"c":68},{"d":"2020-08-02","n":3,"c":76},{"d":"2020-08-09","n":3,"c":84},{"d":"2020-08-16","n":3,"c":100},{"d":"2020-08-23","n":3,"c":120},{"d":"2020-08-30","n":4,"c":144},{"d":"2020-09-06","n":5,"c":176},{"d":"2020-09-13","n":5,"c":216},{"d":"2020-09-20","n":6,"c":272},{"d":"2020-09-27","n":10,"c":360},{"d":"2020-10-04","n":24,"c":599},{"d":"2020-10-11","n":30,"c":959,"l":1},{"d":"2020-10-18","n":52,"c":1518},{"d":"2020-10-25","n":91,"c":2117,"l":1},{"d":"2020-11-01","n":48,"c":2717},{"d":"2020-11-08","n":38,"c":2956},{"d":"2020-11-15","n":30,"c":3076},{"d":"2020-11-22","n":20,"c":3236},{"d":"2020-11-29","n":43,"c":3376},{"d":"2020-12-06","n":12,"c":3476},{"d":"2020-12-13","n":9,"c":3516},{"d":"2020-12-20","n":10,"c":3556},{"d":"2020-12-27","n":11,"c":3596},{"d":"2021-01-03","n":21,"c":3655},{"d":"2021-01-10","n":9,"c":3715},{"d":"2021-01-17","n":10,"c":3795},{"d":"2021-01-24","n":6,"c":3895},{"d":"2021-01-31","n":8,"c":3995,"l":1}],
"pel":[
{"d":"2020-03-01","n":1,"c":0},{"d":"2020-03-08","n":2,"c":25},{"d":"2020-03-15","n":3,"c":51},{"d":"2020-03-22","n":2,"c":71},{"d":"2020-03-29","n":2,"c":86},{"d":"2020-04-05","n":1,"c":97},{"d":"2020-04-12","n":2,"c":107},{"d":"2020-04-19","n":150,"c":356},{"d":"2020-04-26","n":2,"c":366},{"d":"2020-05-03","n":1,"c":371},{"d":"2020-05-10","n":1,"c":377},{"d":"2020-05-17","n":0,"c":382},{"d":"2020-05-24","n":0,"c":382},{"d":"2020-05-31","n":1,"c":387},{"d":"2020-06-07","n":1,"c":387},{"d":"2020-06-14","n":1,"c":392},{"d":"2020-06-21","n":1,"c":397},{"d":"2020-06-28","n":1,"c":402},{"d":"2020-07-05","n":2,"c":407},{"d":"2020-07-12","n":2,"c":417},{"d":"2020-07-19","n":2,"c":427},{"d":"2020-07-26","n":3,"c":443},{"d":"2020-08-02","n":5,"c":463},{"d":"2020-08-09","n":5,"c":483},{"d":"2020-08-16","n":6,"c":509},{"d":"2020-08-23","n":5,"c":534},{"d":"2020-08-30","n":6,"c":570},{"d":"2020-09-06","n":8,"c":611},{"d":"2020-09-13","n":9,"c":651},{"d":"2020-09-20","n":35,"c":702},{"d":"2020-09-27","n":11,"c":753},{"d":"2020-10-04","n":17,"c":814},{"d":"2020-10-11","n":20,"c":890},{"d":"2020-10-18","n":31,"c":1170},{"d":"2020-10-25","n":45,"c":1679,"l":1},{"d":"2020-11-01","n":78,"c":2137},{"d":"2020-11-08","n":48,"c":2748},{"d":"2020-11-15","n":55,"c":3053,"l":1},{"d":"2020-11-22","n":38,"c":3282},{"d":"2020-11-29","n":30,"c":3460},{"d":"2020-12-06","n":25,"c":3612},{"d":"2020-12-13","n":38,"c":3714},{"d":"2020-12-20","n":21,"c":3867},{"d":"2020-12-27","n":28,"c":4070},{"d":"2021-01-03","n":25,"c":4223},{"d":"2021-01-10","n":28,"c":4376},{"d":"2021-01-17","n":31,"c":4579},{"d":"2021-01-24","n":55,"c":4834},{"d":"2021-01-31","n":31,"c":5088,"l":1}],
"kri":[
{"d":"2020-03-01","n":1,"c":0},{"d":"2020-03-08","n":2,"c":12},{"d":"2020-03-15","n":3,"c":24},{"d":"2020-03-22","n":2,"c":36},{"d":"2020-03-29","n":1,"c":44},{"d":"2020-04-05","n":1,"c":48},{"d":"2020-04-12","n":1,"c":52},{"d":"2020-04-19","n":0,"c":52},{"d":"2020-04-26","n":0,"c":52},{"d":"2020-05-03","n":0,"c":52},{"d":"2020-05-10","n":0,"c":52},{"d":"2020-05-17","n":0,"c":52},{"d":"2020-05-24","n":0,"c":52},{"d":"2020-05-31","n":0,"c":52},{"d":"2020-06-07","n":1,"c":56},{"d":"2020-06-14","n":1,"c":56},{"d":"2020-06-21","n":1,"c":60},{"d":"2020-06-28","n":1,"c":64},{"d":"2020-07-05","n":2,"c":71},{"d":"2020-07-12","n":3,"c":79},{"d":"2020-07-19","n":3,"c":111},{"d":"2020-07-26","n":4,"c":159},{"d":"2020-08-02","n":5,"c":226},{"d":"2020-08-09","n":27,"c":318},{"d":"2020-08-16","n":11,"c":417},{"d":"2020-08-23","n":14,"c":496},{"d":"2020-08-30","n":12,"c":576},{"d":"2020-09-06","n":20,"c":663},{"d":"2020-09-13","n":13,"c":727},{"d":"2020-09-20","n":10,"c":786},{"d":"2020-09-27","n":16,"c":842},{"d":"2020-10-04","n":13,"c":897},{"d":"2020-10-11","n":15,"c":953},{"d":"2020-10-18","n":16,"c":1032,"l":1},{"d":"2020-10-25","n":24,"c":1191},{"d":"2020-11-01","n":62,"c":1866},{"d":"2020-11-08","n":57,"c":2383,"l":1},{"d":"2020-11-15","n":46,"c":2819},{"d":"2020-11-22","n":43,"c":3137},{"d":"2020-11-29","n":29,"c":3296},{"d":"2020-12-06","n":16,"c":3375},{"d":"2020-12-13","n":7,"c":3407},{"d":"2020-12-20","n":5,"c":3415},{"d":"2020-12-27","n":13,"c":3423},{"d":"2021-01-03","n":17,"c":3475},{"d":"2021-01-10","n":24,"c":3594},{"d":"2021-01-17","n":7,"c":3713},{"d":"2021-01-24","n":43,"c":3832},{"d":"2021-01-31","n":10,"c":3971,"l":1}],
"de":[
{"d":"2020-03-01","n":1,"c":0},{"d":"2020-03-08","n":41,"c":30},{"d":"2020-03-15","n":3,"c":41},{"d":"2020-03-22","n":2,"c":47},{"d":"2020-03-29","n":2,"c":53},{"d":"2020-04-05","n":1,"c":59},{"d":"2020-04-12","n":1,"c":59},{"d":"2020-04-19","n":1,"c":65},{"d":"2020-04-26","n":0,"c":65},{"d":"2020-05-03","n":0,"c":65},{"d":"2020-05-10","n":0,"c":65},{"d":"2020-05-17","n":0,"c":71},{"d":"2020-05-24","n":0,"c":71},{"d":"2020-05-31","n":0,"c":71},{"d":"2020-06-07","n":1,"c":71},{"d":"2020-06-14","n":1,"c":77},{"d":"2020-06-21","n":1,"c":77},{"d":"2020-06-28","n":1,"c":83},{"d":"2020-07-05","n":1,"c":83},{"d":"2020-07-12","n":1,"c":89},{"d":"2020-07-19","n":2,"c":95},{"d":"2020-07-26","n":2,"c":101},{"d":"2020-08-02","n":2,"c":106},{"d":"2020-08-09","n":3,"c":112},{"d":"2020-08-16","n":3,"c":124},{"d":"2020-08-23","n":2,"c":136},{"d":"2020-08-30","n":3,"c":154},{"d":"2020-09-06","n":3,"c":189},{"d":"2020-09-13","n":4,"c":237},{"d":"2020-09-20","n":6,"c":308},{"d":"2020-09-27","n":8,"c":367},{"d":"2020-10-04","n":15,"c":438},{"d":"2020-10-11","n":20,"c":521},{"d":"2020-10-18","n":28,"c":828},{"d":"2020-10-25","n":44,"c":1538},{"d":"2020-11-01","n":50,"c":2130,"l":1},{"d":"2020-11-08","n":74,"c":2544},{"d":"2020-11-15","n":89,"c":3195,"l":1},{"d":"2020-11-22","n":54,"c":3786},{"d":"2020-11-29","n":45,"c":4023},{"d":"2020-12-06","n":42,"c":4200},{"d":"2020-12-13","n":38,"c":4413},{"d":"2020-12-20","n":35,"c":4614},{"d":"2020-12-27","n":33,"c":4792},{"d":"2021-01-03","n":38,"c":4969},{"d":"2021-01-10","n":58,"c":5177},{"d":"2021-01-17","n":23,"c":5348},{"d":"2021-01-24","n":60,"c":5561},{"d":"2021-01-31","n":10,"c":5916,"l":1}],
"se":[
{"d":"2020-03-01","n":0,"c":0},{"d":"2020-03-08","n":1,"c":10},{"d":"2020-03-15","n":2,"c":25},{"d":"2020-03-22","n":3,"c":41},{"d":"2020-03-29","n":3,"c":51},{"d":"2020-04-05","n":23,"c":61},{"d":"2020-04-12","n":15,"c":71},{"d":"2020-04-19","n":2,"c":76},{"d":"2020-04-26","n":1,"c":81},{"d":"2020-05-03","n":1,"c":81},{"d":"2020-05-10","n":1,"c":86},{"d":"2020-05-17","n":1,"c":86},{"d":"2020-05-24","n":1,"c":91},{"d":"2020-05-31","n":2,"c":91},{"d":"2020-06-07","n":5,"c":97},{"d":"2020-06-14","n":1,"c":97},{"d":"2020-06-21","n":1,"c":102},{"d":"2020-06-28","n":2,"c":107},{"d":"2020-07-05","n":7,"c":112},{"d":"2020-07-12","n":2,"c":117},{"d":"2020-07-19","n":3,"c":122},{"d":"2020-07-26","n":3,"c":132},{"d":"2020-08-02","n":4,"c":142},{"d":"2020-08-09","n":4,"c":158},{"d":"2020-08-16","n":5,"c":173},{"d":"2020-08-23","n":4,"c":193},{"d":"2020-08-30","n":5,"c":219},{"d":"2020-09-06","n":6,"c":254},{"d":"2020-09-13","n":7,"c":290},{"d":"2020-09-20","n":9,"c":335},{"d":"2020-09-27","n":11,"c":386},{"d":"2020-10-04","n":17,"c":442},{"d":"2020-10-11","n":19,"c":559},{"d":"2020-10-18","n":30,"c":686},{"d":"2020-10-25","n":24,"c":966},{"d":"2020-11-01","n":41,"c":1271,"l":1},{"d":"2020-11-08","n":86,"c":1881},{"d":"2020-11-15","n":56,"c":2491},{"d":"2020-11-22","n":64,"c":3050,"l":1},{"d":"2020-11-29","n":49,"c":3304},{"d":"2020-12-06","n":62,"c":3609},{"d":"2020-12-13","n":20,"c":3711},{"d":"2020-12-20","n":60,"c":3812},{"d":"2020-12-27","n":56,"c":3914},{"d":"2021-01-03","n":53,"c":4066},{"d":"2021-01-10","n":28,"c":4295},{"d":"2021-01-17","n":47,"c":4575},{"d":"2021-01-24","n":77,"c":4880},{"d":"2021-01-31","n":20,"c":5083,"l":1}],
"va":[
{"d":"2020-03-01","n":0,"c":0},{"d":"2020-03-08","n":0,"c":3},{"d":"2020-03-15","n":1,"c":5},{"d":"2020-03-22","n":1,"c":8},{"d":"2020-03-29","n":0,"c":10},{"d":"2020-04-05","n":0,"c":10},{"d":"2020-04-12","n":0,"c":13},{"d":"2020-04-19","n":0,"c":13},{"d":"2020-04-26","n":0,"c":13},{"d":"2020-05-03","n":0,"c":13},{"d":"2020-05-10","n":0,"c":13},{"d":"2020-05-17","n":0,"c":13},{"d":"2020-05-24","n":0,"c":16},{"d":"2020-05-31","n":0,"c":16},{"d":"2020-06-07","n":0,"c":16},{"d":"2020-06-14","n":0,"c":16},{"d":"2020-06-21","n":0,"c":18},{"d":"2020-06-28","n":1,"c":21},{"d":"2020-07-05","n":1,"c":26},{"d":"2020-07-12","n":2,"c":34},{"d":"2020-07-19","n":2,"c":42},{"d":"2020-07-26","n":3,"c":52},{"d":"2020-08-02","n":17,"c":73},{"d":"2020-08-09","n":9,"c":99},{"d":"2020-08-16","n":7,"c":125},{"d":"2020-08-23","n":8,"c":143},{"d":"2020-08-30","n":9,"c":162},{"d":"2020-09-06","n":8,"c":188},{"d":"2020-09-13","n":19,"c":235},{"d":"2020-09-20","n":113,"c":574},{"d":"2020-09-27","n":14,"c":652,"l":1},{"d":"2020-10-04","n":9,"c":704},{"d":"2020-10-11","n":17,"c":744},{"d":"2020-10-18","n":19,"c":783},{"d":"2020-10-25","n":42,"c":939},{"d":"2020-11-01","n":37,"c":1122},{"d":"2020-11-08","n":44,"c":1409,"l":1},{"d":"2020-11-15","n":52,"c":1565},{"d":"2020-11-22","n":37,"c":1696},{"d":"2020-11-29","n":32,"c":1826},{"d":"2020-12-06","n":27,"c":1983},{"d":"2020-12-13","n":19,"c":2113},{"d":"2020-12-20","n":24,"c":2218},{"d":"2020-12-27","n":24,"c":2270},{"d":"2021-01-03","n":14,"c":2322},{"d":"2021-01-10","n":22,"c":2374},{"d":"2021-01-17","n":9,"c":2439},{"d":"2021-01-24","n":30,"c":2518},{"d":"2021-01-31","n":17,"c":2609,"l":1}],
"na":[
{"d":"2020-03-01","n":0,"c":0},{"d":"2020-03-08","n":0,"c":0},{"d":"2020-03-15","n":0,"c":0},{"d":"2020-03-22","n":1,"c":4},{"d":"2020-03-29","n":2,"c":8},{"d":"2020-04-05","n":1,"c":11},{"d":"2020-04-12","n":1,"c":13},{"d":"2020-04-19","n":0,"c":15},{"d":"2020-04-26","n":0,"c":15},{"d":"2020-05-03","n":0,"c":15},{"d":"2020-05-10","n":0,"c":15},{"d":"2020-05-17","n":0,"c":15},{"d":"2020-05-24","n":0,"c":15},{"d":"2020-05-31","n":0,"c":15},{"d":"2020-06-07","n":0,"c":15},{"d":"2020-06-14","n":1,"c":17},{"d":"2020-06-21","n":2,"c":19},{"d":"2020-06-28","n":3,"c":25},{"d":"2020-07-05","n":4,"c":33},{"d":"2020-07-12","n":3,"c":40},{"d":"2020-07-19","n":5,"c":52},{"d":"2020-07-26","n":6,"c":86},{"d":"2020-08-02","n":16,"c":163},{"d":"2020-08-09","n":25,"c":287},{"d":"2020-08-16","n":21,"c":383},{"d":"2020-08-23","n":14,"c":412},{"d":"2020-08-30","n":18,"c":450},{"d":"2020-09-06","n":16,"c":498,"l":1},{"d":"2020-09-13","n":15,"c":536},{"d":"2020-09-20","n":17,"c":613},{"d":"2020-09-27","n":18,"c":709},{"d":"2020-10-04","n":20,"c":824},{"d":"2020-10-11","n":22,"c":958},{"d":"2020-10-18","n":22,"c":1073,"l":1},{"d":"2020-10-25","n":25,"c":1207},{"d":"2020-11-01","n":21,"c":1322},{"d":"2020-11-08","n":30,"c":1437},{"d":"2020-11-15","n":41,"c":1552},{"d":"2020-11-22","n":20,"c":1609},{"d":"2020-11-29","n":16,"c":1629},{"d":"2020-12-06","n":12,"c":1648},{"d":"2020-12-13","n":7,"c":1667},{"d":"2020-12-20","n":11,"c":1696},{"d":"2020-12-27","n":9,"c":1734},{"d":"2021-01-03","n":11,"c":1753},{"d":"2021-01-10","n":11,"c":1772},{"d":"2021-01-17","n":7,"c":1791},{"d":"2021-01-24","n":15,"c":1839},{"d":"2021-01-31","n":9,"c":1916,"l":1}],
"in":[
{"d":"2020-03-01","n":4,"c":4},{"d":"2020-03-08","n":1,"c":6},{"d":"2020-03-15","n":1,"c":8},{"d":"2020-03-22","n":1,"c":9},{"d":"2020-03-29","n":1,"c":10},{"d":"2020-04-05","n":1,"c":11},{"d":"2020-04-12","n":1,"c":12},{"d":"2020-04-19","n":0,"c":12},{"d":"2020-04-26","n":0,"c":12},{"d":"2020-05-03","n":0,"c":12},{"d":"2020-05-10","n":0,"c":12},{"d":"2020-05-17","n":0,"c":12},{"d":"2020-05-24","n":0,"c":12},{"d":"2020-05-31","n":0,"c":12},{"d":"2020-06-07","n":0,"c":12},{"d":"2020-06-14","n":0,"c":12},{"d":"2020-06-21","n":0,"c":12},{"d":"2020-06-28","n":1,"c":13},{"d":"2020-07-05","n":1,"c":15},{"d":"2020-07-12","n":3,"c":20},{"d":"2020-07-19","n":4,"c":30},{"d":"2020-07-26","n":9,"c":60},{"d":"2020-08-02","n":6,"c":90},{"d":"2020-08-09","n":7,"c":120},{"d":"2020-08-16","n":12,"c":159},{"d":"2020-08-23","n":6,"c":199},{"d":"2020-08-30","n":9,"c":239},{"d":"2020-09-06","n":13,"c":279,"l":1},{"d":"2020-09-13","n":11,"c":329},{"d":"2020-09-20","n":9,"c":369},{"d":"2020-09-27","n":5,"c":388},{"d":"2020-10-04","n":10,"c":418},{"d":"2020-10-11","n":12,"c":448},{"d":"2020-10-18","n":7,"c":478},{"d":"2020-10-25","n":9,"c":518,"l":1},{"d":"2020-11-01","n":16,"c":598},{"d":"2020-11-08","n":21,"c":697},{"d":"2020-11-15","n":24,"c":777},{"d":"2020-11-22","n":21,"c":827},{"d":"2020-11-29","n":12,"c":857},{"d":"2020-12-06","n":3,"c":876},{"d":"2020-12-13","n":2,"c":886},{"d":"2020-12-20","n":10,"c":901},{"d":"2020-12-27","n":6,"c":916},{"d":"2021-01-03","n":3,"c":931},{"d":"2021-01-10","n":1,"c":941},{"d":"2021-01-17","n":5,"c":956},{"d":"2021-01-24","n":8,"c":976},{"d":"2021-01-31","n":3,"c":996,"l":1}]
},
"config":{
"font":"Liberation Sans",
"view":{"stroke":null},
"title":{"fontSize":7.5,"fontWeight":"bold","color":"#1f2a44","offset":6},
"axis":{"grid":false,"labelFontSize":4.5,"labelColor":"#333333","domainColor":"#000000","tickColor":"#000000","tickSize":2,"tickWidth":0.8,"labelPadding":1.5,"titleFontSize":4.5,"titleFontWeight":"normal","titleColor":"#444444","titlePadding":4,"labelFlush":false,"labelOverlap":false},
"axisLeft":{"domainWidth":1.8,"tickCount":4},
"axisRight":{"domainWidth":1.2,"tickCount":4,"labelFontSize":3.6,"labelAngle":90,"labelAlign":"center","labelBaseline":"bottom"},
"axisBottom":{"domainWidth":1.8,"offset":3}
}
}
